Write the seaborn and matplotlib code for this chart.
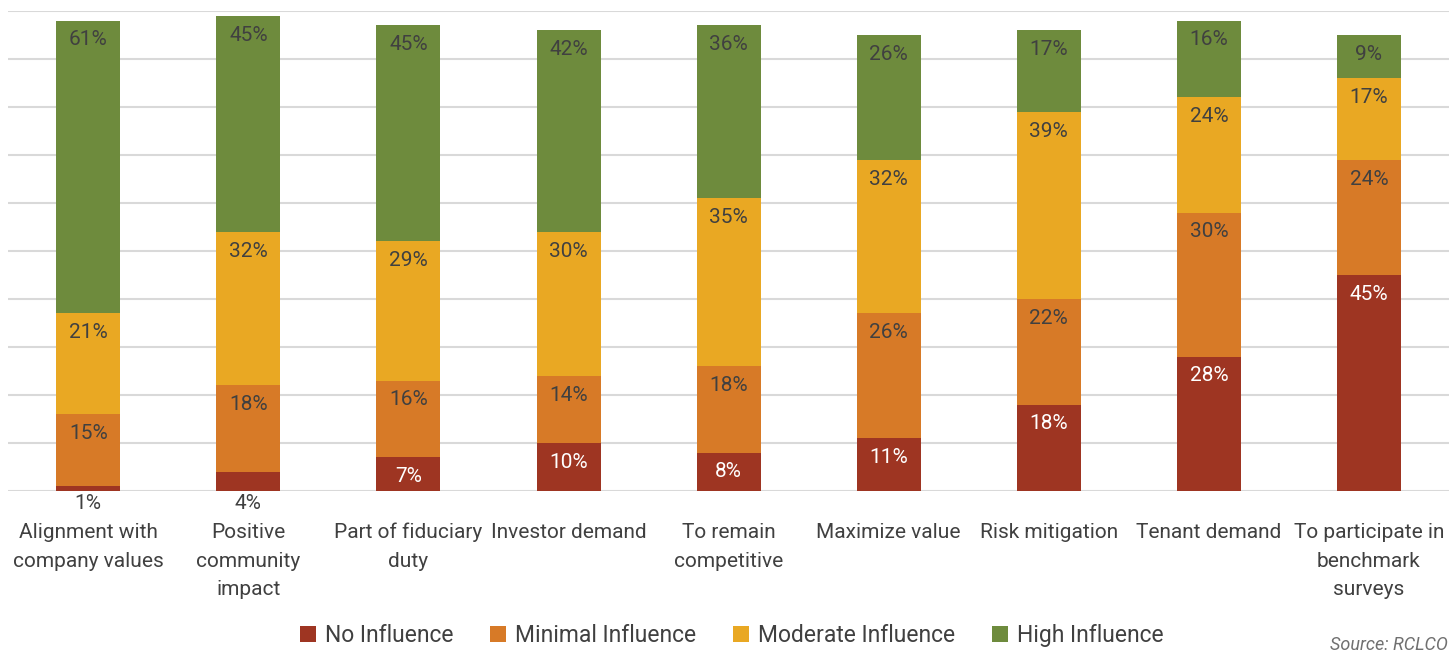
import numpy as np
import pandas as pd
import matplotlib
matplotlib.use("Agg")
import matplotlib.pyplot as plt
import seaborn as sns
from matplotlib.patches import Patch

categories = ["Alignment with\ncompany values", "Positive\ncommunity\nimpact",
              "Part of fiduciary\nduty", "Investor demand", "To remain\ncompetitive",
              "Maximize value", "Risk mitigation", "Tenant demand",
              "To participate in\nbenchmark\nsurveys"]
no_influence = [1, 4, 7, 10, 8, 11, 18, 28, 45]
minimal_influence = [15, 18, 16, 14, 18, 26, 22, 30, 24]
moderate_influence = [21, 32, 29, 30, 35, 32, 39, 24, 17]
high_influence = [61, 45, 45, 42, 36, 26, 17, 16, 9]

series = ["No Influence", "Minimal Influence", "Moderate Influence", "High Influence"]
colors = ["#9E3522", "#D77A27", "#E9A823", "#6E8B3D"]
label_colors = ["white", "#404040", "#404040", "#404040"]

df = pd.DataFrame({"category": categories,
                   "No Influence": no_influence,
                   "Minimal Influence": minimal_influence,
                   "Moderate Influence": moderate_influence,
                   "High Influence": high_influence})

sns.set_theme(style="white")
plt.rcParams["font.family"] = ["Roboto", "DejaVu Sans"]

fig = plt.figure(figsize=(14.49, 6.52), dpi=100)
ax = fig.add_axes([0.0057, 0.247, 0.9943, 0.736])

bottom = np.zeros(len(categories))
for name, col, lc in zip(series, colors, label_colors):
    vals = df[name].to_numpy(dtype=float)
    sns.barplot(data=df, x="category", y=name, color=col, width=0.4,
                bottom=bottom, ax=ax, saturation=1, linewidth=0, zorder=3)
    for i, v in enumerate(vals):
        top = bottom[i] + v
        if v < 5:
            ax.annotate(f"{int(v)}%", (i, 0), xytext=(0, -2), textcoords="offset points",
                        ha="center", va="top", fontsize=15, color="#404040")
        else:
            ax.annotate(f"{int(v)}%", (i, top), xytext=(0, -7), textcoords="offset points",
                        ha="center", va="top", fontsize=15, color=lc)
    bottom = bottom + vals

ax.set_xlim(-0.5, len(categories) - 0.5)
ax.set_ylim(0, 100)
ax.set_yticks(np.arange(0, 101, 10))
ax.set_yticklabels([])
ax.yaxis.grid(True, color="#d9d9d9", linewidth=1.5, zorder=0)
ax.set_axisbelow(True)
ax.set_xticks(range(len(categories)))
ax.set_xticklabels(categories, linespacing=1.65)
ax.tick_params(axis="x", length=0, pad=23, labelsize=15, labelcolor="#404040")
ax.tick_params(axis="y", length=0)
ax.set_xlabel("")
ax.set_ylabel("")
sns.despine(ax=ax, left=True, bottom=True, top=True, right=True)

handles = [Patch(facecolor=c, edgecolor="none") for c in colors]
fig.legend(handles, series, loc="center", bbox_to_anchor=(0.505, 0.025), ncol=4,
           frameon=False, fontsize=16.5, handlelength=0.7, handleheight=0.7,
           handletextpad=0.4, columnspacing=1.6, labelcolor="#404040")

fig.text(0.999, -0.003, "Source: RCLCO", ha="right", va="bottom", fontsize=13,
         style="italic", color="#707070")

fig.savefig("out.png", dpi=100)
